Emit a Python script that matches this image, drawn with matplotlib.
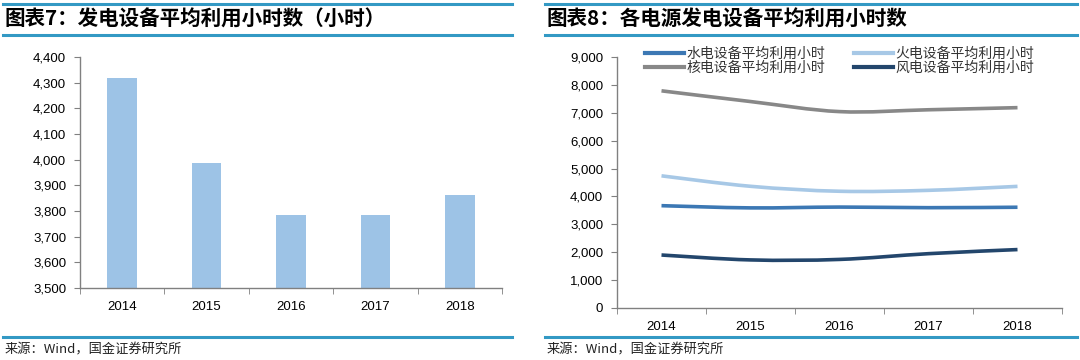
import matplotlib
matplotlib.use("Agg")
import matplotlib.pyplot as plt
from matplotlib.path import Path
from matplotlib.patches import PathPatch
from matplotlib.lines import Line2D
from matplotlib.ticker import FuncFormatter, FixedLocator
import numpy as np

plt.rcParams['font.family'] = ['Liberation Sans', 'Noto Sans CJK SC', 'DejaVu Sans']

years = ['2014', '2015', '2016', '2017', '2018']
avg_hours = [4318, 3988, 3785, 3786, 3862]

series_names = ['水电设备平均利用小时', '火电设备平均利用小时', '核电设备平均利用小时', '风电设备平均利用小时']
hydro = [3669, 3590, 3619, 3597, 3613]
thermal = [4739, 4364, 4186, 4219, 4361]
nuclear = [7787, 7403, 7042, 7108, 7184]
wind = [1900, 1724, 1742, 1948, 2095]

title_left = '图表7：发电设备平均利用小时数（小时）'
title_right = '图表8：各电源发电设备平均利用小时数'
source = '来源：Wind，国金证券研究所'

line_blue = '#3399C4'
colors = ['#3C78B4', '#A7C8E6', '#888888', '#23466C']

fig = plt.figure(figsize=(10.8, 3.6), dpi=100)

cjk = ['Noto Sans CJK SC', 'DejaVu Sans']

def header(x0, x1, title):
    fig.add_artist(Line2D([x0, x1], [1 - 3.5/360, 1 - 3.5/360], color=line_blue, lw=2.2, transform=fig.transFigure))
    fig.add_artist(Line2D([x0, x1], [1 - 35/360, 1 - 35/360], color=line_blue, lw=2.2, transform=fig.transFigure))
    fig.add_artist(Line2D([x0, x1], [1 - 337/360, 1 - 337/360], color=line_blue, lw=2.2, transform=fig.transFigure))
    fig.text(x0 + 2/1080, 1 - 19/360, title, family=cjk, fontsize=14.8, fontweight='bold',
             style='italic', va='center', ha='left')
    fig.text(x0 + 2/1080, 1 - 350/360, source, family=cjk, fontsize=9.5, va='center', ha='left', color='#222222')

header(3/1080, 512/1080, title_left)
header(545/1080, 1077/1080, title_right)

fmt = FuncFormatter(lambda v, p: f'{int(v):,}')

def style_axes(ax):
    for s in ['top', 'right']:
        ax.spines[s].set_visible(False)
    for s in ['left', 'bottom']:
        ax.spines[s].set_color('#808080')
        ax.spines[s].set_linewidth(1.0)
    ax.yaxis.set_major_formatter(fmt)
    ax.tick_params(axis='y', direction='out', length=4, color='#808080', labelsize=9.5, pad=6)
    ax.tick_params(axis='x', which='major', length=0, labelsize=9.5, pad=9)
    ax.tick_params(axis='x', which='minor', direction='out', length=4, color='#808080')
    x = np.arange(len(years))
    ax.set_xticks(x)
    ax.set_xticklabels(years)
    ax.xaxis.set_minor_locator(FixedLocator(np.arange(len(years) + 1) - 0.5))
    ax.set_xlim(-0.5, len(years) - 0.5)

# Left chart
axl = fig.add_axes([80/1080, 1 - 288/360, 422/1080, 231/360])
x = np.arange(len(years))
axl.bar(x, avg_hours, width=0.35, color='#9DC3E6')
axl.set_ylim(3500, 4400)
axl.set_yticks(np.arange(3500, 4401, 100))
style_axes(axl)

# Right chart
axr = fig.add_axes([617/1080, 1 - 308/360, 445/1080, 251/360])
axr.set_ylim(0, 9000)
axr.set_yticks(np.arange(0, 9001, 1000))
style_axes(axr)

def smooth_path(xs, ys):
    pts = np.column_stack([xs, ys]).astype(float)
    n = len(pts)
    verts = [pts[0]]
    codes = [Path.MOVETO]
    for i in range(n - 1):
        p0 = pts[i - 1] if i > 0 else pts[i]
        p1 = pts[i]
        p2 = pts[i + 1]
        p3 = pts[i + 2] if i + 2 < n else pts[i + 1]
        c1 = p1 + (p2 - p0) / 6
        c2 = p2 - (p3 - p1) / 6
        verts += [c1, c2, p2]
        codes += [Path.CURVE4] * 3
    return Path(verts, codes)

handles = []
for name, vals, c in zip(series_names, [hydro, thermal, nuclear, wind], colors):
    patch = PathPatch(smooth_path(x, vals), facecolor='none', edgecolor=c, lw=2.6, capstyle='butt')
    axr.add_patch(patch)
    handles.append(Line2D([], [], color=c, lw=3, label=name))

# row-major order in the reference: hydro, thermal / nuclear, wind
order = [0, 2, 1, 3]
leg = axr.legend(handles=[handles[i] for i in order], ncol=2, loc='upper left',
                 bbox_to_anchor=(0.045, 1.072),
                 frameon=False, prop={'family': cjk, 'size': 10}, handlelength=2.8,
                 handletextpad=0.15, columnspacing=2.1, labelspacing=-0.05,
                 borderaxespad=0.2)
for t in leg.get_texts():
    t.set_color('#333333')

fig.savefig('out.png', dpi=100)
